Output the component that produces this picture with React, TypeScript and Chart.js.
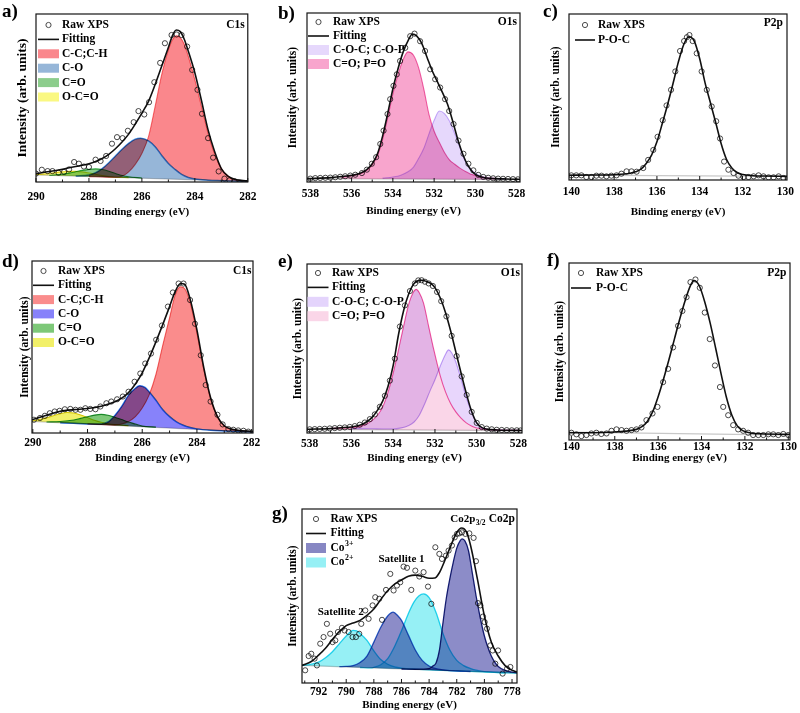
import React, { useEffect, useRef } from 'react';
import { Chart, registerables } from 'chart.js';

Chart.register(...registerables);

type Pt = [number, number];
const SERIF = "'Liberation Serif', 'Times New Roman', serif";

// ---------- a) C1s ----------
const A_BG: Pt[] = [[290, 4.2], [282, 0.3]];
const A_RAW: Pt[] = [[290.0, 5.0], [289.78, 7.3], [289.56, 6.5], [289.38, 6.5], [289.15, 5.5], [288.94, 6.0], [288.75, 7.5], [288.56, 11.9], [288.38, 10.9], [288.19, 9.2], [288.0, 8.9], [287.75, 13.3], [287.56, 12.5], [287.35, 15.5], [287.13, 22.8], [286.94, 26.7], [286.73, 26.1], [286.53, 30.5], [286.31, 35.6], [286.13, 42.2], [285.91, 40.2], [285.73, 47.5], [285.53, 59.4], [285.31, 70.9], [285.13, 82.6], [284.88, 87.5], [284.69, 87.8], [284.5, 87.5], [284.29, 80.6], [284.1, 66.7], [283.9, 54.9], [283.73, 40.6], [283.5, 26.1], [283.31, 14.5], [283.1, 6.3], [282.88, 2.0], [282.69, 1.0], [282.5, 0.5], [282.31, -0.8], [282.13, -0.8]];
const A_FIT: Pt[] = [[290, 5], [289.5, 6.2], [289, 7.6], [288.5, 9.2], [288, 10.9], [287.75, 12.2], [287.5, 14], [287.25, 16.5], [287, 19.8], [286.75, 23.8], [286.5, 28.5], [286.25, 34.5], [286, 41], [285.75, 48], [285.5, 58], [285.25, 69], [285, 80], [284.85, 87], [284.7, 90.5], [284.55, 89.5], [284.4, 85], [284.25, 78], [284, 65], [283.75, 48.5], [283.5, 31], [283.25, 18], [283, 8], [282.75, 3.5], [282.5, 1.6], [282.25, 1.0], [282, 0.7]];
const A_CC: Pt[] = [[288, 3.2], [287.5, 3.0], [287, 2.8], [286.75, 3.4], [286.5, 6], [286.25, 10.5], [286, 17], [285.75, 27], [285.5, 45], [285.25, 64], [285, 78.5], [284.85, 84.5], [284.7, 87], [284.55, 86], [284.4, 82], [284.25, 75], [284, 61], [283.75, 45], [283.5, 29], [283.25, 16.5], [283, 8], [282.75, 3.5], [282.5, 1.5], [282.25, 0.7], [282, 0.4]];
const A_CO: Pt[] = [[288.5, 3.5], [288, 4.2], [287.75, 5.5], [287.5, 8], [287.25, 11.5], [287, 15.5], [286.75, 19.5], [286.5, 23], [286.25, 25.5], [286.05, 26], [285.75, 24.5], [285.5, 21], [285.25, 15.8], [285, 11], [284.75, 7.5], [284.5, 4.5], [284.25, 2.7], [284, 1.8], [283.5, 1.1], [283, 0.8], [282.5, 0.55], [282, 0.3]];
const A_CEO: Pt[] = [[289.5, 4.0], [289, 4.6], [288.75, 5.3], [288.5, 6.1], [288.25, 6.9], [288, 7.5], [287.75, 7.8], [287.5, 7.4], [287.25, 6.4], [287, 5.1], [286.75, 3.9], [286.5, 3.1], [286, 2.4]];
const A_OCO: Pt[] = [[290, 4.4], [289.75, 4.7], [289.5, 5.1], [289.25, 5.6], [289, 6.0], [288.75, 6.3], [288.5, 6.3], [288.25, 6.0], [288, 5.4], [287.75, 4.6], [287.5, 3.8], [287.25, 3.2], [287, 2.85], [286.5, 2.6]];

// ---------- b) O1s ----------
const B_BG: Pt[] = [[538.16, 2.0], [527.84, 1.4]];
const B_RAW: Pt[] = [[538.0, 2.0], [537.76, 2.3], [537.52, 2.4], [537.27, 2.5], [537.03, 2.6], [536.79, 2.8], [536.55, 3.1], [536.31, 3.4], [536.06, 3.8], [535.82, 4.3], [535.5, 5.3], [535.26, 7.3], [535.02, 10.8], [534.81, 14.7], [534.61, 22.5], [534.45, 30.4], [534.26, 40.2], [534.13, 49], [533.97, 56.9], [533.81, 63.7], [533.65, 71.6], [533.4, 79.4], [533.16, 86.3], [532.95, 87.8], [532.68, 83.3], [532.44, 77.5], [532.19, 66.7], [531.95, 60.8], [531.71, 55.9], [531.47, 49], [531.27, 42], [531.06, 34.3], [530.82, 24.5], [530.58, 16.7], [530.34, 10.8], [530.1, 6.9], [529.86, 4.2], [529.62, 3.0], [529.38, 2.5], [529.14, 2.2], [528.9, 2.0], [528.66, 1.9], [528.42, 1.8], [528.18, 1.7], [527.94, 1.6]];
const B_FIT: Pt[] = [[538.16, 2.0], [537, 2.6], [536.5, 3.2], [536, 3.9], [535.75, 4.5], [535.5, 5.6], [535.25, 7.5], [535, 10.8], [534.75, 16.5], [534.5, 27], [534.25, 40.5], [534, 55], [533.75, 67], [533.5, 77], [533.25, 84], [533.05, 87.6], [532.85, 86.5], [532.6, 82], [532.35, 74], [532.1, 66], [531.85, 59.5], [531.6, 53], [531.35, 46], [531.1, 36], [530.85, 25], [530.6, 16], [530.35, 9.5], [530.1, 5.5], [529.85, 3.5], [529.5, 2.4], [529, 2.0], [528.5, 1.8], [527.84, 1.6]];
const B_CEO: Pt[] = [[536.5, 2.8], [536, 3.8], [535.5, 5.3], [535.25, 7], [535, 10.3], [534.75, 15.5], [534.5, 25], [534.25, 38], [534, 52], [533.75, 63.5], [533.5, 72.5], [533.27, 77], [533, 75], [532.75, 67.5], [532.5, 55], [532.25, 40], [532, 30], [531.75, 23.5], [531.5, 17.5], [531.25, 13], [531, 10.5], [530.75, 8.2], [530.5, 6.4], [530.25, 4.8], [530, 3.9], [529.5, 2.5], [529, 2.0]];
const B_COC: Pt[] = [[534.5, 2.3], [534, 3], [533.65, 3.9], [533.25, 6.2], [533, 8.8], [532.75, 14], [532.5, 20], [532.25, 28.5], [532, 36.5], [531.75, 42], [531.5, 40.5], [531.25, 36], [531, 28.5], [530.75, 20.5], [530.5, 12.5], [530.25, 8], [530, 5.2], [529.75, 3.6], [529.5, 2.7], [529, 2.1], [528.5, 1.8]];

// ---------- c) P2p ----------
const C_BG: Pt[] = [[140.11, 2.9], [129.92, 2.2]];
const C_RAW: Pt[] = [[140.0, 2.8], [139.77, 2.8], [139.53, 2.8], [139.3, 1.8], [139.06, 1.8], [138.83, 2.6], [138.59, 2.6], [138.36, 2.2], [138.13, 2.6], [137.89, 2.8], [137.66, 3.8], [137.42, 5.2], [137.19, 5.2], [136.95, 5.0], [136.64, 7.2], [136.41, 12.1], [136.17, 18.1], [135.97, 26], [135.73, 36], [135.55, 44.9], [135.34, 54.3], [135.14, 65.4], [134.92, 77.7], [134.73, 83.7], [134.6, 86], [134.48, 87.3], [134.33, 83.7], [134.14, 76.3], [133.91, 65.4], [133.67, 54.3], [133.44, 44.3], [133.23, 35.4], [133.05, 25], [132.86, 11.1], [132.66, 6.2], [132.42, 4.2], [132.19, 2.6], [131.95, 1.8], [131.72, 1.8], [131.48, 2.2], [131.25, 2.8], [131.02, 2.2], [130.78, 1.6], [130.55, 1.6], [130.31, 2.2], [130.08, 1.2]];
const C_FIT: Pt[] = [[140.11, 2.9], [139, 3.0], [138, 3.2], [137.5, 3.6], [137.25, 4.1], [137, 4.9], [136.75, 6.5], [136.5, 10], [136.25, 15], [136, 23], [135.75, 34], [135.5, 45.5], [135.25, 58], [135, 71], [134.75, 81.5], [134.5, 86.3], [134.25, 83.5], [134, 73], [133.75, 58.5], [133.5, 46.5], [133.25, 34.5], [133, 22], [132.75, 12.5], [132.5, 7.2], [132.25, 4.5], [132, 3.3], [131.5, 2.6], [131, 2.4], [129.92, 2.2]];

// ---------- d) C1s ----------
const D_BG: Pt[] = [[290.03, 6.8], [281.95, 0.5]];
const D_RAW: Pt[] = [[289.96, 7.7], [289.74, 8.7], [289.56, 10], [289.38, 11.5], [289.2, 12.5], [289.02, 12.9], [288.83, 13.8], [288.63, 14], [288.44, 13.5], [288.26, 13.5], [288.08, 14.4], [287.9, 14], [287.71, 13.8], [287.53, 15.4], [287.31, 17.3], [287.13, 18.3], [286.92, 19.6], [286.71, 21.2], [286.5, 24], [286.28, 29.8], [286.07, 34.6], [285.89, 40.4], [285.68, 46.2], [285.49, 54.2], [285.28, 62.5], [285.06, 73.5], [284.88, 81.7], [284.67, 86.9], [284.49, 86.9], [284.25, 77.3], [284.07, 63.5], [283.86, 45.2], [283.68, 27.9], [283.5, 18.3], [283.25, 10.6], [283.06, 5.0], [282.85, 2.3], [282.67, 1.9], [282.49, 1.5], [282.3, 1.3], [282.12, 0.8]];
const D_FIT: Pt[] = [[290.03, 7.7], [289.5, 10.3], [289, 12.6], [288.5, 13.6], [288, 14.2], [287.5, 15.6], [287, 18.2], [286.75, 20.3], [286.5, 23.5], [286.25, 28.5], [286, 35], [285.75, 43.5], [285.5, 53], [285.25, 63], [285, 73.5], [284.8, 82], [284.6, 86.9], [284.45, 86.5], [284.25, 78], [284, 60], [283.75, 38], [283.5, 20.5], [283.25, 9.5], [283, 4.2], [282.75, 2.3], [282.5, 1.6], [281.95, 1.0]];
const D_CC: Pt[] = [[288, 5.3], [287.5, 4.9], [287, 4.6], [286.75, 5.2], [286.5, 6.7], [286.25, 9.5], [286, 14.5], [285.75, 22], [285.5, 34], [285.25, 51], [285, 67], [284.8, 80], [284.6, 85], [284.45, 84], [284.25, 76], [284, 58], [283.75, 37], [283.5, 20], [283.25, 9.5], [283, 4], [282.75, 2.1], [282.5, 1.4], [281.95, 0.6]];
const D_CO: Pt[] = [[289, 6.0], [288.5, 5.6], [288, 5.25], [287.5, 5.3], [287.25, 6.4], [287, 10.2], [286.75, 15.5], [286.5, 22], [286.25, 26], [286.1, 27.5], [285.9, 26.5], [285.75, 24], [285.5, 19], [285.25, 13.5], [285, 9.5], [284.75, 6.5], [284.5, 4.5], [284.25, 3.2], [284, 2.4], [283.5, 1.6], [283, 1.2], [282.5, 0.9], [281.95, 0.6]];
const D_CEO: Pt[] = [[289.5, 6.4], [289, 6.7], [288.5, 7.6], [288.25, 8.5], [288, 9.5], [287.75, 10.4], [287.5, 10.8], [287.25, 10.3], [287, 9.2], [286.75, 7.8], [286.5, 6.4], [286.25, 5.2], [286, 4.0], [285.5, 3.4]];
const D_OCO: Pt[] = [[290.03, 7.0], [289.75, 7.8], [289.5, 8.8], [289.25, 10], [289, 11.2], [288.75, 11.9], [288.5, 11.6], [288.25, 10.5], [288, 9], [287.75, 7.4], [287.5, 6.2], [287.25, 5.4], [287, 4.9], [286.5, 4.2]];

// ---------- e) O1s ----------
const E_BG: Pt[] = [[538.13, 2.2], [527.83, 1.4]];
const E_RAW: Pt[] = [[538.0, 2.2], [537.76, 2.3], [537.52, 2.4], [537.28, 2.5], [537.04, 2.7], [536.8, 2.9], [536.56, 3.1], [536.32, 3.3], [536.08, 3.6], [535.84, 4.1], [535.6, 4.9], [535.36, 6.2], [535.12, 8.2], [534.88, 11], [534.64, 15.5], [534.4, 22], [534.16, 31], [533.92, 44], [533.68, 63], [533.44, 75.5], [533.2, 84], [532.96, 88.5], [532.8, 90.3], [532.64, 90.4], [532.48, 89.5], [532.3, 88.5], [532.1, 87], [531.9, 83.5], [531.7, 78], [531.45, 69], [531.2, 57.5], [530.96, 45.5], [530.72, 33.5], [530.48, 22.5], [530.24, 12.5], [530.0, 6], [529.76, 3.5], [529.52, 2.6], [529.28, 2.2], [529.04, 1.9], [528.8, 1.8], [528.56, 1.7], [528.32, 1.6], [528.08, 1.6], [527.9, 1.5]];
const E_FIT: Pt[] = [[538.13, 2.2], [537, 2.7], [536.5, 3.1], [536, 3.6], [535.5, 5.0], [535.25, 6.8], [535, 9.4], [534.75, 13.5], [534.5, 19], [534.25, 27.5], [534, 40], [533.75, 58], [533.5, 72.5], [533.25, 82.5], [533, 88.5], [532.75, 90.3], [532.6, 90.4], [532.4, 89.6], [532.2, 88.5], [532, 86], [531.75, 80], [531.5, 71.5], [531.25, 60.5], [531, 48], [530.75, 35.5], [530.5, 23.5], [530.25, 13], [530, 6], [529.75, 3.2], [529.5, 2.3], [529, 1.8], [527.83, 1.5]];
const E_CEO: Pt[] = [[537, 2.7], [536.5, 2.9], [536, 3.2], [535.5, 4.2], [535.25, 5.5], [535, 7.5], [534.75, 10.5], [534.5, 15.5], [534.25, 24], [534, 35.5], [533.75, 49], [533.5, 63.3], [533.25, 76.5], [533.05, 83], [532.9, 85], [532.75, 83], [532.55, 77], [532.3, 63], [532.05, 49], [531.75, 34], [531.5, 24.5], [531.25, 17.5], [531, 12.5], [530.75, 8.8], [530.5, 6], [530.25, 4.2], [530, 3], [529.5, 2.1], [529, 1.8], [527.83, 1.5]];
const E_COC: Pt[] = [[536, 2.6], [535, 2.5], [534.5, 2.4], [534, 2.4], [533.66, 2.9], [533.25, 4.5], [533, 6.5], [532.75, 10.5], [532.5, 17], [532.25, 24.5], [532, 31.5], [531.75, 39.5], [531.5, 46.5], [531.35, 49.2], [531.2, 47.5], [531, 42], [530.75, 32], [530.5, 21], [530.25, 12.5], [530, 6], [529.75, 3], [529.5, 2.1], [529, 1.8], [528.5, 1.6], [527.83, 1.5]];

// ---------- f) P2p ----------
const F_BG: Pt[] = [[140.11, 4.4], [129.92, 2.7]];
const F_RAW: Pt[] = [[140.0, 4.1], [139.77, 3.2], [139.54, 2.2], [139.31, 2.8], [139.08, 3.7], [138.85, 4.1], [138.62, 3.4], [138.38, 3.7], [138.15, 5.2], [137.92, 6.0], [137.69, 5.6], [137.46, 5.2], [137.23, 5.6], [137.0, 6.0], [136.77, 7.1], [136.54, 11.2], [136.26, 15], [136.03, 18.7], [135.77, 32.7], [135.54, 40.2], [135.31, 52.3], [135.08, 64.5], [134.88, 72.9], [134.69, 80.7], [134.51, 89.2], [134.28, 90.7], [134.08, 86], [133.85, 72], [133.62, 57], [133.38, 42.1], [133.15, 29.9], [133.0, 18.7], [132.77, 14], [132.54, 8.4], [132.31, 6.0], [132.08, 5.2], [131.85, 4.1], [131.62, 2.8], [131.38, 2.8], [131.15, 2.8], [130.92, 3.2], [130.69, 3.2], [130.46, 2.8], [130.23, 3.4], [130.0, 2.8]];
const F_FIT: Pt[] = [[140.11, 4.1], [139, 4.1], [138, 4.5], [137.5, 5.0], [137, 6.0], [136.75, 7.5], [136.5, 10.5], [136.25, 16], [136, 24.5], [135.75, 34.5], [135.5, 45.5], [135.25, 57], [135, 68.5], [134.75, 79], [134.5, 87.5], [134.35, 90.1], [134.1, 87], [133.85, 78], [133.6, 66], [133.35, 52], [133.1, 37.5], [132.85, 24], [132.6, 14], [132.35, 8], [132.1, 5.3], [131.75, 4.0], [131.25, 3.5], [129.92, 3.2]];

// ---------- g) Co2p ----------
const G_BG: Pt[] = [[793.2, 10.1], [777.64, 5.7]];
const G_RAW: Pt[] = [[792.97, 7.3], [792.72, 15.5], [792.53, 16.8], [792.29, 14], [792.12, 10.1], [791.88, 22.6], [791.64, 26.4], [791.4, 34], [791.16, 28.3], [790.99, 23.5], [790.79, 24.5], [790.6, 29.3], [790.31, 31.7], [790.12, 30.2], [789.83, 29.3], [789.54, 26.4], [789.3, 26.4], [789.06, 28.3], [788.91, 34], [788.62, 41.7], [788.38, 36.9], [788.09, 44.6], [787.9, 49.3], [787.61, 48.4], [787.41, 36.3], [787.12, 53.5], [786.81, 62.7], [786.57, 53.2], [786.33, 56], [786.09, 57.9], [785.85, 66.9], [785.6, 66.2], [785.29, 53.5], [785.0, 64.6], [784.71, 61.2], [784.4, 63.7], [784.08, 55.4], [783.84, 45.5], [783.55, 78], [783.26, 74.2], [783.07, 71.3], [782.78, 73.2], [782.59, 76.1], [782.35, 79], [782.15, 83.7], [781.98, 85.7], [781.81, 86], [781.62, 86.6], [781.38, 85.7], [781.09, 86], [780.78, 83.4], [780.61, 70], [780.46, 45.9], [780.29, 44.6], [780.1, 38.2], [779.98, 35], [779.81, 31.2], [779.57, 21.6], [779.4, 18.7], [779.21, 11.1], [779.01, 18.7], [778.68, 5.4], [778.36, 8.2], [778.12, 9.2]];
const G_FIT: Pt[] = [[793.2, 10.1], [792.5, 12.5], [792, 16], [791.5, 20], [791, 25], [790.5, 29.5], [790, 33], [789.5, 34.5], [789, 36], [788.5, 38.8], [788, 42.5], [787.5, 48], [787, 53], [786.5, 56.8], [786, 59.2], [785.5, 61.3], [785, 62], [784.5, 61.3], [784, 60.2], [783.6, 60.3], [783.25, 63.5], [783, 67.8], [782.5, 77.5], [782, 86.5], [781.65, 89.1], [781.3, 86.8], [781, 79], [780.5, 59.5], [780, 38.5], [779.5, 23.5], [779, 15.5], [778.5, 10], [778, 7.3], [777.64, 6.3]];
const G_CO3_MAIN: Pt[] = [[786, 8.06], [785, 7.9], [784.5, 8.0], [784, 8.3], [783.75, 9.6], [783.5, 11.5], [783.25, 19], [783, 34.5], [782.75, 49], [782.5, 60], [782.25, 69.5], [782, 77.5], [781.75, 81.8], [781.6, 82.8], [781.4, 81.5], [781.15, 76], [780.9, 64.5], [780.6, 50], [780.3, 37.5], [780, 27], [779.75, 20.5], [779.5, 15.5], [779.25, 12], [779, 9.5], [778.5, 7.2], [778, 6.2], [777.64, 5.8]];
const G_CO3_SAT: Pt[] = [[790.5, 9.4], [790, 9.5], [789.5, 10], [789, 11.8], [788.5, 15.5], [788, 23.5], [787.5, 32], [787, 38.5], [786.6, 40.7], [786.25, 38.5], [786, 36], [785.5, 27.5], [785, 19], [784.5, 13], [784, 9.8], [783.5, 8.2], [783, 7.6], [782, 6.9], [781, 6.6]];
const G_CO2_SAT1: Pt[] = [[789, 8.9], [788.25, 8.7], [788, 9], [787.5, 10.5], [787, 14], [786.5, 21], [786, 30], [785.5, 40], [785.1, 46.5], [784.75, 50], [784.4, 51.2], [784, 49], [783.5, 40.5], [783, 28.5], [782.5, 19], [782, 13], [781.5, 10], [781, 8.3], [780.5, 7.2], [780, 6.5], [778.5, 5.9]];
const G_CO2_SAT2: Pt[] = [[793.2, 10.1], [792.5, 10.8], [792, 12], [791.5, 14.5], [791, 18], [790.5, 22.5], [790, 27], [789.5, 30.2], [789.25, 30], [789, 28.5], [788.5, 24.5], [788, 18.5], [787.5, 13.5], [787, 10.8], [786.5, 9.3], [786, 8.6], [785, 8.0], [783, 7.3], [781, 6.7], [777.64, 5.7]];

// ---------- tick labels ----------
const C1S_TICKS = [290, 288, 286, 284, 282];
const O1S_TICKS = [538, 536, 534, 532, 530, 528];
const P2P_TICKS = [140, 138, 136, 134, 132, 130];
const CO2P_TICKS = [792, 790, 788, 786, 784, 782, 780, 778];

// ---------- colours ----------
const COL = {
  aRed: 'rgb(250,135,140)', aBlue: 'rgb(150,182,216)', aGreen: 'rgb(140,205,140)', aYellow: 'rgb(250,248,130)',
  dRed: 'rgb(250,140,140)', dBlue: 'rgb(135,130,250)', dGreen: 'rgb(125,200,120)', dYellow: 'rgb(242,240,105)',
  bPink: 'rgb(248,165,205)', bLav: 'rgb(230,216,252)',
  ePink: 'rgb(250,214,232)', eLav: 'rgb(232,214,252)',
  co3: 'rgb(140,140,200)', co2: 'rgb(150,240,245)',
};

interface Comp { label: string; pts: Pt[]; fill: string; line: string; width?: number; over?: number }
interface Item { kind: 'point' | 'line' | 'box'; text: string; sup?: string; color?: string }
interface Note { text: string; sub?: string; x: number; y: number }
interface Legend { row0: number; gap: number; xs: number; sw: number; tx: number; boxH: number }
interface PanelSpec {
  letter: string; letterAt: [number, number];
  box: [number, number, number, number];
  xMin: number; xMax: number; ticks: number[];
  raw: Pt[]; fit: Pt[]; bg: Pt[]; comps: Comp[];
  items: Item[]; legend: Legend;
  tag: string; tagAt: [number, number];
  yTitleOffset: number; yTitleSize: number; tickPad: number; titleCenter: number;
  notes?: Note[];
}

const RAW_ITEM: Item = { kind: 'point', text: 'Raw XPS' };
const FIT_ITEM: Item = { kind: 'line', text: 'Fitting' };

const PANELS: PanelSpec[] = [
  {
    letter: 'a)', letterAt: [2, 3], box: [36, 13, 251, 182], xMin: 282, xMax: 290, ticks: C1S_TICKS,
    raw: A_RAW, fit: A_FIT, bg: A_BG,
    comps: [
      { label: 'C-C;C-H', pts: A_CC, fill: COL.aRed, line: 'rgb(245,115,120)', over: 1 },
      { label: 'C-O', pts: A_CO, fill: COL.aBlue, line: 'rgb(60,140,230)', width: 1.5 },
      { label: 'C=O', pts: A_CEO, fill: COL.aGreen, line: 'rgb(40,165,60)' },
      { label: 'O-C=O', pts: A_OCO, fill: COL.aYellow, line: 'rgb(230,215,30)' },
    ],
    items: [RAW_ITEM, FIT_ITEM, { kind: 'box', text: 'C-C;C-H', color: COL.aRed }, { kind: 'box', text: 'C-O', color: COL.aBlue }, { kind: 'box', text: 'C=O', color: COL.aGreen }, { kind: 'box', text: 'O-C=O', color: COL.aYellow }],
    legend: { row0: 11, gap: 14.4, xs: 2, sw: 21, tx: 26, boxH: 9 },
    tag: 'C1s', tagAt: [-3, 11], yTitleOffset: 14.3, yTitleSize: 13.5, tickPad: 8.6, titleCenter: 30,
  },
  {
    letter: 'b)', letterAt: [278, 5], box: [307, 12, 520, 182], xMin: 527.84, xMax: 538.16, ticks: O1S_TICKS,
    raw: B_RAW, fit: B_FIT, bg: B_BG,
    comps: [
      { label: 'C=O; P=O', pts: B_CEO, fill: COL.bPink, line: 'rgb(240,105,175)' },
      { label: 'C-O-C; C-O-P', pts: B_COC, fill: COL.bLav, line: 'rgb(205,180,250)' },
    ],
    items: [RAW_ITEM, FIT_ITEM, { kind: 'box', text: 'C-O-C; C-O-P', color: COL.bLav }, { kind: 'box', text: 'C=O; P=O', color: COL.bPink }],
    legend: { row0: 9, gap: 14, xs: 1, sw: 21, tx: 26, boxH: 10 },
    tag: 'O1s', tagAt: [-3, 9], yTitleOffset: 14.4, yTitleSize: 11.5, tickPad: 4.7, titleCenter: 29,
  },
  {
    letter: 'c)', letterAt: [543, 3], box: [569, 13, 787, 180], xMin: 129.92, xMax: 140.11, ticks: P2P_TICKS,
    raw: C_RAW, fit: C_FIT, bg: C_BG, comps: [],
    items: [RAW_ITEM, { kind: 'line', text: 'P-O-C' }],
    legend: { row0: 11, gap: 15, xs: 6, sw: 20, tx: 29, boxH: 9 },
    tag: 'P2p', tagAt: [-4, 9], yTitleOffset: 12.6, yTitleSize: 11.5, tickPad: 5.6, titleCenter: 32,
  },
  {
    letter: 'd)', letterAt: [2, 253], box: [32, 260, 253, 433], xMin: 281.95, xMax: 290.03, ticks: C1S_TICKS,
    raw: D_RAW, fit: D_FIT, bg: D_BG,
    comps: [
      { label: 'C-C;C-H', pts: D_CC, fill: COL.dRed, line: 'rgb(240,105,105)', over: 1 },
      { label: 'C-O', pts: D_CO, fill: COL.dBlue, line: 'rgb(40,120,235)', width: 1.5 },
      { label: 'C=O', pts: D_CEO, fill: COL.dGreen, line: 'rgb(30,150,50)' },
      { label: 'O-C=O', pts: D_OCO, fill: COL.dYellow, line: 'rgb(220,205,0)' },
    ],
    items: [RAW_ITEM, FIT_ITEM, { kind: 'box', text: 'C-C;C-H', color: COL.dRed }, { kind: 'box', text: 'C-O', color: COL.dBlue }, { kind: 'box', text: 'C=O', color: COL.dGreen }, { kind: 'box', text: 'O-C=O', color: COL.dYellow }],
    legend: { row0: 10, gap: 14.3, xs: 1, sw: 21, tx: 26, boxH: 9 },
    tag: 'C1s', tagAt: [-1.5, 10], yTitleOffset: 6.7, yTitleSize: 11.5, tickPad: 3.1, titleCenter: 25,
  },
  {
    letter: 'e)', letterAt: [278, 253], box: [307, 263, 522, 433], xMin: 527.83, xMax: 538.13, ticks: O1S_TICKS,
    raw: E_RAW, fit: E_FIT, bg: E_BG,
    comps: [
      { label: 'C=O; P=O', pts: E_CEO, fill: COL.ePink, line: 'rgb(245,90,165)' },
      { label: 'C-O-C; C-O-P', pts: E_COC, fill: COL.eLav, line: 'rgb(195,165,245)', over: 0 },
    ],
    items: [RAW_ITEM, FIT_ITEM, { kind: 'box', text: 'C-O-C; C-O-P', color: 'rgb(228,212,252)' }, { kind: 'box', text: 'C=O; P=O', color: COL.ePink }],
    legend: { row0: 9, gap: 14.4, xs: 0.5, sw: 21, tx: 25, boxH: 10 },
    tag: 'O1s', tagAt: [-2, 9], yTitleOffset: 9.4, yTitleSize: 11.5, tickPad: 3.7, titleCenter: 25,
  },
  {
    letter: 'f)', letterAt: [547, 252], box: [569, 262, 790, 440], xMin: 129.92, xMax: 140.11, ticks: P2P_TICKS,
    raw: F_RAW, fit: F_FIT, bg: F_BG, comps: [],
    items: [RAW_ITEM, { kind: 'line', text: 'P-O-C' }],
    legend: { row0: 10, gap: 15, xs: 2, sw: 20, tx: 27, boxH: 9 },
    tag: 'P2p', tagAt: [-3.5, 10], yTitleOffset: 8.6, yTitleSize: 11.5, tickPad: 0, titleCenter: 18,
  },
  {
    letter: 'g)', letterAt: [272, 505], box: [302, 508, 517, 683], xMin: 777.64, xMax: 793.2, ticks: CO2P_TICKS,
    raw: G_RAW, fit: G_FIT, bg: G_BG,
    comps: [
      { label: 'Co3+ main', pts: G_CO3_MAIN, fill: COL.co3, line: 'rgb(25,35,125)', width: 1.3 },
      { label: 'Co3+ satellite', pts: G_CO3_SAT, fill: COL.co3, line: 'rgb(45,100,205)', width: 1.3 },
      { label: 'Co2+ satellite 1', pts: G_CO2_SAT1, fill: COL.co2, line: 'rgb(40,215,240)', width: 1.3 },
      { label: 'Co2+ satellite 2', pts: G_CO2_SAT2, fill: COL.co2, line: 'rgb(40,215,240)', width: 1.3 },
    ],
    items: [RAW_ITEM, FIT_ITEM, { kind: 'box', text: 'Co', sup: '3+', color: 'rgb(135,135,195)' }, { kind: 'box', text: 'Co', sup: '2+', color: COL.co2 }],
    legend: { row0: 10, gap: 14.5, xs: 4, sw: 20, tx: 28.5, boxH: 10 },
    tag: 'Co2p', tagAt: [-2, 10], yTitleOffset: 9.4, yTitleSize: 11.5, tickPad: 2.1, titleCenter: 22,
    notes: [
      { text: 'Co2p', sub: '3/2', x: 781.2, y: 93.9 },
      { text: 'Satellite 1', x: 786.0, y: 71.3 },
      { text: 'Satellite 2', x: 790.4, y: 40.7 },
    ],
  },
];

const PAD_TOP = 4;
const PAD_RIGHT = 14;
const TITLE_SIZE = 11;
const TEXT_SIZE = 11.5;

const xy = (pts: Pt[]) => pts.map(([x, y]) => ({ x, y }));
const font = (size: number) => `bold ${size}px ${SERIF}`;

function drawScripted(ctx: CanvasRenderingContext2D, x: number, y: number, base: string, script: string | undefined, mode: 'sup' | 'sub', size: number, align: 'left' | 'center' | 'right') {
  ctx.font = font(size);
  const wb = ctx.measureText(base).width;
  const ss = size * 0.68;
  ctx.font = font(ss);
  const ws = script ? ctx.measureText(script).width + 0.5 : 0;
  const total = wb + ws;
  const x0 = align === 'center' ? x - total / 2 : align === 'right' ? x - total : x;
  ctx.textAlign = 'left';
  ctx.font = font(size);
  ctx.fillText(base, x0, y);
  if (script) {
    ctx.font = font(ss);
    ctx.fillText(script, x0 + wb + 0.5, y + (mode === 'sup' ? -size * 0.36 : size * 0.32));
  }
}

// fills of overlapping components combine like stacked transparencies
const multiplyPlugin = {
  id: 'multiplyFills',
  beforeDatasetsDraw(chart: any) {
    chart.ctx.save();
    chart.ctx.globalCompositeOperation = 'multiply';
  },
  afterDatasetsDraw(chart: any) {
    chart.ctx.restore();
  },
};

function decorPlugin(spec: PanelSpec) {
  return {
    id: 'panelDecor',
    afterDraw(chart: any) {
      const ctx: CanvasRenderingContext2D = chart.ctx;
      const a = chart.chartArea;
      const xs = chart.scales.x;
      const ys = chart.scales.y;
      ctx.save();
      // frame
      ctx.strokeStyle = '#151515';
      ctx.lineWidth = 1.2;
      ctx.strokeRect(a.left, a.top, a.right - a.left, a.bottom - a.top);
      // inward ticks on the energy axis
      ctx.lineWidth = 1;
      ctx.beginPath();
      for (let v = Math.ceil(spec.xMin); v <= Math.floor(spec.xMax); v += 1) {
        const px = xs.getPixelForValue(v);
        const len = spec.ticks.includes(v) ? 4 : 2.5;
        ctx.moveTo(px, a.bottom);
        ctx.lineTo(px, a.bottom - len);
      }
      ctx.stroke();
      // legend
      const lg = spec.legend;
      ctx.textBaseline = 'middle';
      ctx.fillStyle = '#000';
      spec.items.forEach((it, i) => {
        const y = a.top + lg.row0 + i * lg.gap;
        const x0 = a.left + lg.xs;
        if (it.kind === 'point') {
          ctx.beginPath();
          ctx.strokeStyle = '#4a4a4a';
          ctx.lineWidth = 1;
          ctx.arc(x0 + lg.sw / 2, y, 2.6, 0, Math.PI * 2);
          ctx.stroke();
        } else if (it.kind === 'line') {
          ctx.beginPath();
          ctx.strokeStyle = '#111';
          ctx.lineWidth = 1.6;
          ctx.moveTo(x0, y);
          ctx.lineTo(x0 + lg.sw, y);
          ctx.stroke();
        } else {
          ctx.fillStyle = it.color || '#ccc';
          ctx.fillRect(x0, y - lg.boxH / 2, lg.sw, lg.boxH);
        }
        ctx.fillStyle = '#000';
        drawScripted(ctx, a.left + lg.tx, y, it.text, it.sup, 'sup', TEXT_SIZE, 'left');
      });
      // core-level tag
      ctx.font = font(TEXT_SIZE);
      ctx.textAlign = 'right';
      ctx.fillText(spec.tag, a.right + spec.tagAt[0], a.top + spec.tagAt[1]);
      // peak annotations
      (spec.notes || []).forEach((n) => {
        drawScripted(ctx, xs.getPixelForValue(n.x), ys.getPixelForValue(n.y), n.text, n.sub, 'sub', 11, 'center');
      });
      ctx.restore();
    },
  };
}

function XpsPanel({ spec }: { spec: PanelSpec }) {
  const ref = useRef<HTMLCanvasElement | null>(null);
  const [L, T, R, B] = spec.box;
  const yw = Math.round(spec.yTitleOffset + spec.yTitleSize * 0.6);
  const hx = Math.round(spec.titleCenter + TITLE_SIZE * 0.6);
  const left = L - yw;
  const top = T - PAD_TOP;
  const width = R - left + PAD_RIGHT;
  const height = B - top + hx;

  useEffect(() => {
    const canvas = ref.current;
    if (!canvas) return;
    const n = spec.comps.length;
    const bgIndex = 2 + n;
    const datasets: any[] = [
      {
        label: 'Raw XPS', data: xy(spec.raw), showLine: false, pointRadius: 2.6, pointBorderWidth: 1,
        pointBorderColor: '#4a4a4a', pointBackgroundColor: 'rgba(255,255,255,0)', borderColor: '#4a4a4a', fill: false,
      },
      {
        label: 'Fitting', data: xy(spec.fit), borderColor: '#111', borderWidth: 1.6, pointRadius: 0,
        cubicInterpolationMode: 'monotone', fill: false,
      },
      ...spec.comps.map((c) => ({
        label: c.label, data: xy(c.pts), borderColor: c.line, borderWidth: c.width ?? 1.1, pointRadius: 0,
        cubicInterpolationMode: 'monotone', backgroundColor: c.fill,
        fill: { target: c.over !== undefined ? 2 + c.over : bgIndex, above: c.fill, below: c.fill },
      })),
      {
        label: 'Background', data: xy(spec.bg), borderColor: 'rgb(200,200,200)', borderWidth: 1.2, pointRadius: 0, fill: false,
      },
    ];
    const chart = new Chart(canvas, {
      type: 'line',
      data: { datasets },
      options: {
        responsive: false,
        animation: false,
        events: [],
        layout: { padding: { top: PAD_TOP, right: PAD_RIGHT, left: 0, bottom: 0 } },
        plugins: { legend: { display: false }, tooltip: { enabled: false } },
        scales: {
          x: {
            type: 'linear', reverse: true, min: spec.xMin, max: spec.xMax,
            grid: { display: false, drawTicks: false }, border: { display: false },
            afterBuildTicks: (s: any) => { s.ticks = spec.ticks.map((v) => ({ value: v })); },
            ticks: { font: { family: SERIF, size: TEXT_SIZE, weight: 'bold' }, color: '#000', padding: spec.tickPad, maxRotation: 0, autoSkip: false, callback: (v: any) => String(v) },
            title: { display: true, text: 'Binding energy (eV)', font: { family: SERIF, size: TITLE_SIZE, weight: 'bold' }, color: '#000', padding: 0 },
            afterFit: (s: any) => { s.height = hx; },
          },
          y: {
            min: 0, max: 100,
            grid: { display: false, drawTicks: false }, border: { display: false },
            ticks: { display: false },
            title: { display: true, text: 'Intensity (arb. units)', font: { family: SERIF, size: spec.yTitleSize, weight: 'bold' }, color: '#000', padding: 0 },
            afterFit: (s: any) => { s.width = yw; },
          },
        },
      } as any,
      plugins: [multiplyPlugin, decorPlugin(spec)],
    });
    return () => chart.destroy();
  }, [spec]);

  return (
    <canvas
      ref={ref}
      width={width}
      height={height}
      style={{ position: 'absolute', left, top, width, height }}
    />
  );
}

export default function App() {
  return (
    <div style={{ position: 'fixed', left: 0, top: 0, width: 800, height: 713, background: '#fff', overflow: 'hidden' }}>
      {PANELS.map((p) => (
        <XpsPanel key={p.letter} spec={p} />
      ))}
      {PANELS.map((p) => (
        <div
          key={'tag-' + p.letter}
          style={{ position: 'absolute', left: p.letterAt[0], top: p.letterAt[1] - 2, font: `bold 19px ${SERIF}`, lineHeight: '19px', color: '#000' }}
        >
          {p.letter}
        </div>
      ))}
    </div>
  );
}
